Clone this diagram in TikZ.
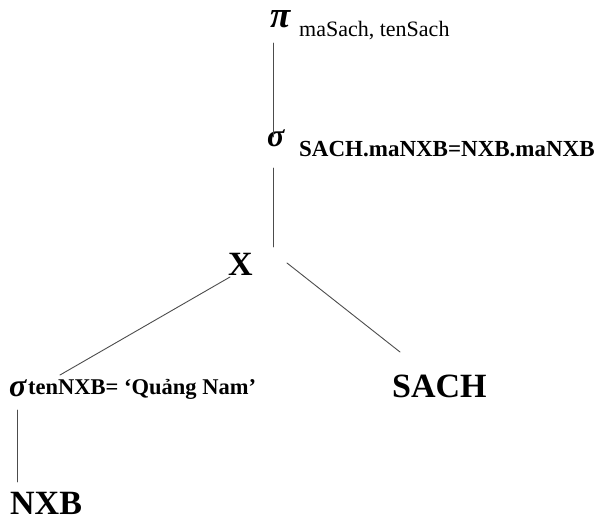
\documentclass[tikz,border=0pt]{standalone}
\usepackage{fontspec}
\setmainfont{Liberation Serif}
\usetikzlibrary{calc}

\tikzset{
  op/.style={anchor=base west, inner sep=0pt, font=\fontsize{32}{38}\selectfont\bfseries\itshape},
  cond/.style={anchor=base west, inner sep=0pt, font=\fontsize{23}{27}\selectfont\bfseries},
  rel/.style={anchor=base west, inner sep=0pt, font=\fontsize{34}{40}\selectfont\bfseries},
  edge/.style={draw=black!70, line width=0.9pt},
}

\begin{document}
\begin{tikzpicture}[x=1pt, y=-1pt, line cap=round, line join=round]

  %% ════ 运算符 / 关系 ════
  \node[op, font=\fontsize{37}{42}\selectfont\bfseries\itshape] (proj) at (270,28) {π};
  \node[anchor=base west, inner sep=0pt, font=\fontsize{22}{26}\selectfont] (projattr) at (299,37) {maSach, tenSach};

  \node[op] (selA) at (267,147) {σ};
  \node[cond] (selAcond) at (299,157) {SACH.maNXB=NXB.maNXB};

  \node[rel] (join) at (228,275) {X};

  \node[op] (selB) at (9,396) {σ};
  \node[cond, font=\fontsize{22.5}{26}\selectfont\bfseries] (selBcond) at (28,394) {tenNXB= ‘Quảng Nam’};

  \node[rel] (sach) at (392,397) {SACH};
  \node[rel] (nxb) at (10,514) {NXB};

  %% ════ 连线 ════
  \draw[edge] ($(proj.base west)+(3,15)$) -- ($(selA.base west)+(6,-10)$);
  \draw[edge] ($(selA.base west)+(6,21)$) -- ($(join.base west)+(45,-28)$);
  \draw[edge] ($(join.base west)+(2,2)$) -- ($(selBcond.base west)+(32,-19)$);
  \draw[edge] ($(join.base west)+(59,-12)$) -- ($(sach.base west)+(8,-45)$);
  \draw[edge] ($(selB.base west)+(8,14)$) -- ($(nxb.base west)+(7,-32)$);

  % 钉死画布
  \pgfresetboundingbox
  \path[use as bounding box] (0,0) rectangle (599,521);
\end{tikzpicture}
\end{document}
